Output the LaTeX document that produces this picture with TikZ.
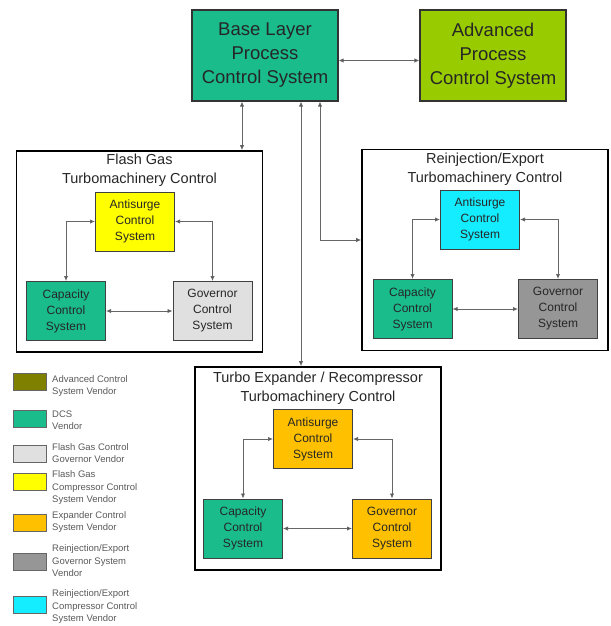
\documentclass[tikz,border=0pt]{standalone}
\usepackage{fontspec}
\setmainfont{Liberation Sans}
\usetikzlibrary{arrows.meta,positioning}
\definecolor{dcsgreen}{RGB}{26,188,140}
\definecolor{apcgreen}{RGB}{153,204,0}
\definecolor{advolive}{RGB}{128,128,0}
\definecolor{fgyellow}{RGB}{255,255,0}
\definecolor{teorange}{RGB}{255,192,0}
\definecolor{fggray}{RGB}{224,224,224}
\definecolor{rjgray}{RGB}{150,150,150}
\definecolor{rjcyan}{RGB}{20,236,255}
\begin{document}
\begin{tikzpicture}[x=1pt,y=-1pt,
	every node/.style={align=center,text=black!85},
	toplevel/.style={draw=black!80,line width=1.2pt,minimum width=146pt,minimum height=91pt,inner sep=0pt,font=\fontsize{18.5}{24}\selectfont},
	group/.style={draw=black,line width=1.6pt,minimum width=246pt,minimum height=201pt,inner sep=0pt},
	grouptitle/.style={below=4pt,inner sep=0pt,font=\fontsize{14.5}{19}\selectfont},
	subsys/.style={draw=black!75,line width=1pt,minimum width=79pt,minimum height=59pt,inner sep=0pt,font=\fontsize{12}{16}\selectfont},
	link/.style={draw=black!60,line width=0.9pt,{Latex[length=5pt,width=4.5pt,fill=black!85]}-{Latex[length=5pt,width=4.5pt,fill=black!85]}},
	swatch/.style={draw=black!60,line width=0.8pt,minimum width=33pt,minimum height=17pt,inner sep=0pt},
	legendtext/.style={anchor=west,align=left,inner sep=0pt,text=black!65,font=\fontsize{9.5}{12.5}\selectfont}]
	\useasboundingbox (0,0) rectangle (610,626);

	% top level systems
	\node[toplevel,fill=dcsgreen] (base) at (265,55.5) {Base Layer\\Process\\Control System};
	\node[toplevel,fill=apcgreen] (apc) at (493,55.5) {Advanced\\Process\\Control System};

	% flash gas
	\node[group] (fg) at (139.5,251.5) {};
	\node[grouptitle] at (fg.north) {Flash Gas\\Turbomachinery Control};
	\node[subsys,fill=fgyellow] (fga) at (135,221.5) {Antisurge\\Control\\System};
	\node[subsys,fill=dcsgreen] (fgc) at (66,311) {Capacity\\Control\\System};
	\node[subsys,fill=fggray] (fgg) at (212.5,311) {Governor\\Control\\System};

	% reinjection / export
	\node[group] (rj) at (485,250) {};
	\node[grouptitle] at (rj.north) {Reinjection/Export\\Turbomachinery Control};
	\node[subsys,fill=rjcyan] (rja) at (480,219.5) {Antisurge\\Control\\System};
	\node[subsys,fill=dcsgreen] (rjc) at (412.5,309) {Capacity\\Control\\System};
	\node[subsys,fill=rjgray] (rjg) at (558,309) {Governor\\Control\\System};

	% turbo expander
	\node[group,minimum height=203pt] (te) at (318,468.5) {};
	\node[grouptitle,below=6pt] at (te.north) {Turbo Expander / Recompressor\\Turbomachinery Control};
	\node[subsys,fill=teorange] (tea) at (313,439) {Antisurge\\Control\\System};
	\node[subsys,fill=dcsgreen] (tec) at (243,528.5) {Capacity\\Control\\System};
	\node[subsys,fill=teorange] (teg) at (392,528.5) {Governor\\Control\\System};

	% links
	\draw[link] ([yshift=-5pt]base.east) -- ([yshift=-5pt]apc.west);
	\draw[link] ([xshift=-23pt]base.south) -- ([xshift=-23pt]base.south |- fg.north);
	\draw[link] ([xshift=36pt]base.south) -- ([xshift=36pt]base.south |- te.north);
	\draw[link] ([xshift=55pt]base.south) |- ([yshift=10pt]rj.west);

	\draw[link] (fga.west) -| (fgc.north);
	\draw[link] (fga.east) -| (fgg.north);
	\draw[link] (fgc) -- (fgg);
	\draw[link] (rja.west) -| (rjc.north);
	\draw[link] (rja.east) -| (rjg.north);
	\draw[link] (rjc) -- (rjg);
	\draw[link] (tea.west) -| (tec.north);
	\draw[link] (tea.east) -| (teg.north);
	\draw[link] (tec) -- (teg);

	% legend
	\foreach \col/\ys/\yt/\txt [count=\i] in {
		advolive/382/386/{Advanced Control\\System Vendor},
		dcsgreen/418.5/420/{DCS\\Vendor},
		fggray/453.5/453/{Flash Gas Control\\Governor Vendor},
		fgyellow/481.5/488/{Flash Gas\\Compressor Control\\System Vendor},
		teorange/522.5/522/{Expander Control\\System Vendor},
		rjgray/562/561/{Reinjection/Export\\Governor System\\Vendor},
		rjcyan/604.5/607/{Reinjection/Export\\Compressor Control\\System Vendor}}
	{
		\node[swatch,fill=\col] (key\i) at (29.5,\ys) {};
		\node[legendtext] (keytext\i) at (52,\yt) {\txt};
	}
\end{tikzpicture}
\end{document}
